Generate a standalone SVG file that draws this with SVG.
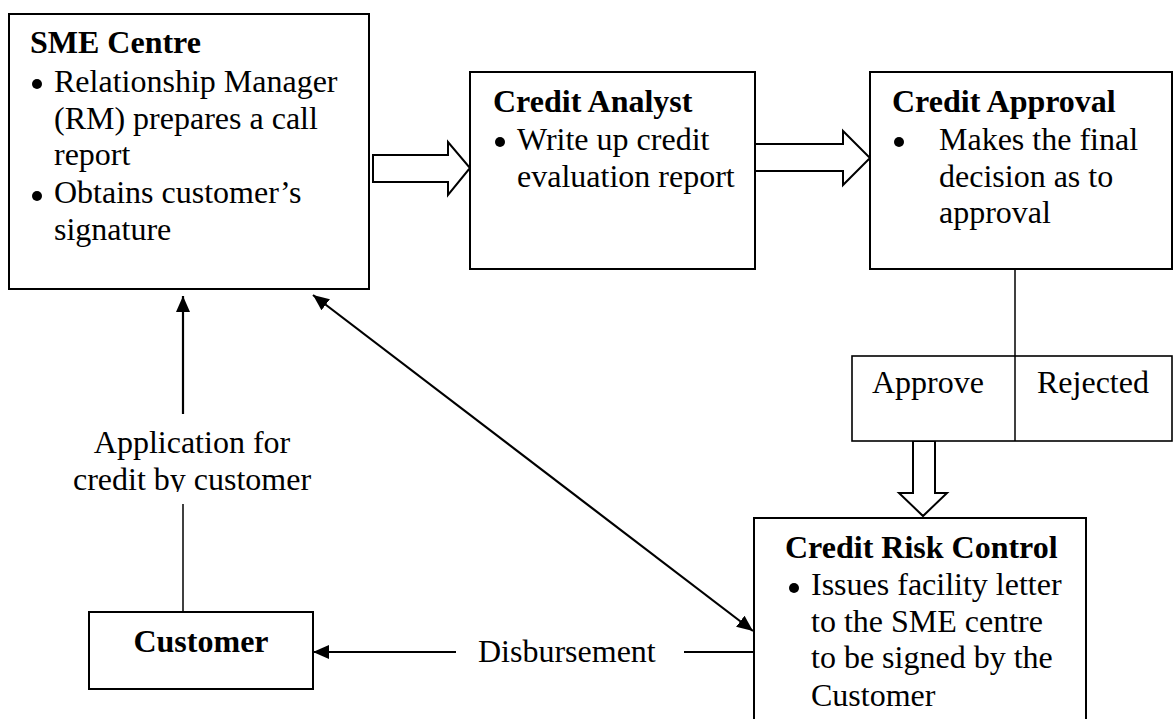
<svg xmlns="http://www.w3.org/2000/svg" width="1176" height="719" viewBox="0 0 1176 719">
<style>
text{font-family:"Liberation Serif","Times New Roman",serif;font-size:32px;fill:#000}
.b{font-weight:bold}
.box{fill:#fff;stroke:#000;stroke-width:2}
.hollow{fill:#fff;stroke:#000;stroke-width:2;stroke-linejoin:miter}
.ln{stroke:#000;stroke-width:2.2;fill:none}
.thin{stroke:#000;stroke-width:1.5;fill:none}
.dot{fill:#000}
</style>
<defs>
<marker id="ah" viewBox="0 0 16 14" refX="16" refY="7" markerWidth="16" markerHeight="14" markerUnits="userSpaceOnUse" orient="auto-start-reverse">
<path d="M0,0 L16,7 L0,14 z" fill="#000"/>
</marker>
<clipPath id="clipApp"><rect x="0" y="420" width="400" height="72"/></clipPath>
</defs>
<rect width="1176" height="719" fill="#fff"/>

<g id="connectors">
<polygon class="hollow" points="373,155 448,155 448,142 470,168 448,195 448,182 373,182"/>
<polygon class="hollow" points="755,144 843,144 843,131 870,158 843,185 843,171 755,171"/>
<line class="thin" x1="1015" y1="269" x2="1015" y2="356"/>
<polygon class="hollow" points="913,441 935,441 935,493 947,493 923,516 899,493 913,493"/>
<line class="ln" x1="183" y1="414" x2="183" y2="296" marker-end="url(#ah)"/>
<line class="thin" x1="183" y1="504" x2="183" y2="612"/>
<line class="ln" x1="313" y1="295" x2="753" y2="631" marker-start="url(#ah)" marker-end="url(#ah)"/>
<line class="ln" x1="456" y1="652" x2="313" y2="652" marker-end="url(#ah)"/>
<line class="ln" x1="684" y1="652" x2="754" y2="652"/>
<text x="478" y="662">Disbursement</text>
<g clip-path="url(#clipApp)">
<text x="192" y="453" text-anchor="middle">Application for</text>
<text x="192" y="490" text-anchor="middle">credit by customer</text>
</g>
</g>

<g id="sme-centre">
<rect class="box" x="9" y="14" width="360" height="275"/>
<text class="b" x="30" y="53">SME Centre</text>
<circle class="dot" cx="37" cy="84" r="5"/>
<text x="54" y="92">Relationship Manager</text>
<text x="54" y="129">(RM) prepares a call</text>
<text x="54" y="165">report</text>
<circle class="dot" cx="37" cy="196" r="5"/>
<text x="54" y="203">Obtains customer’s</text>
<text x="54" y="240">signature</text>
</g>

<g id="credit-analyst">
<rect class="box" x="470" y="72" width="285" height="197"/>
<text class="b" x="493" y="112">Credit Analyst</text>
<circle class="dot" cx="500" cy="142" r="5"/>
<text x="517" y="150">Write up credit</text>
<text x="517" y="187">evaluation report</text>
</g>

<g id="credit-approval">
<rect class="box" x="870" y="72" width="302" height="197"/>
<text class="b" x="892" y="112">Credit Approval</text>
<circle class="dot" cx="899" cy="142" r="5"/>
<text x="939" y="150">Makes the final</text>
<text x="939" y="187">decision as to</text>
<text x="939" y="223">approval</text>
</g>

<g id="decision">
<rect class="box" x="852" y="356" width="320" height="85" style="stroke-width:1.6"/>
<line class="thin" x1="1015" y1="356" x2="1015" y2="441"/>
<text x="872" y="393">Approve</text>
<text x="1037" y="393">Rejected</text>
</g>

<g id="credit-risk-control">
<rect class="box" x="754" y="518" width="332" height="220"/>
<text class="b" x="785" y="558">Credit Risk Control</text>
<circle class="dot" cx="794" cy="588" r="5"/>
<text x="811" y="595">Issues facility letter</text>
<text x="811" y="632">to the SME centre</text>
<text x="811" y="668">to be signed by the</text>
<text x="811" y="706">Customer</text>
</g>

<g id="customer">
<rect class="box" x="89" y="612" width="224" height="77"/>
<text class="b" x="201" y="652" text-anchor="middle">Customer</text>
</g>
</svg>
